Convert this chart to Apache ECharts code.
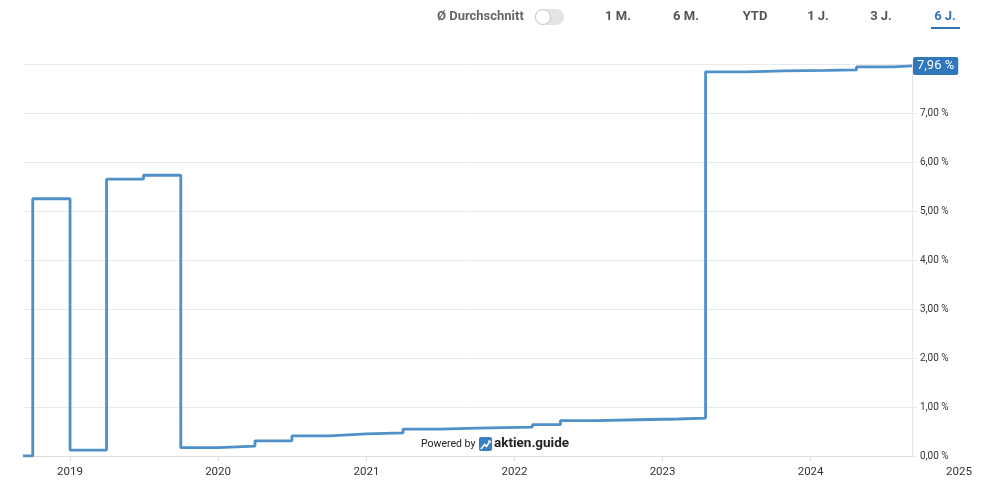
<!DOCTYPE html>
<html>
<head>
<meta charset="utf-8">
<script src="https://cdn.jsdelivr.net/npm/echarts@6/dist/echarts.min.js"></script>
<style>
  html, body { margin: 0; padding: 0; background: #fff; }
  #chart { width: 985px; height: 499px; }
</style>
</head>
<body>
<div id="chart"></div>
<script>
// Dividendenrendite, Stufenverlauf (Datum der Änderung, Wert in %)
const changeDates = [
  '2018-09-07', '2018-10-01', '2019-01-01', '2019-04-01', '2019-07-01', '2019-10-01',
  '2020-01-01', '2020-04-01', '2020-07-01', '2020-10-01', '2021-01-01', '2021-04-01',
  '2021-07-01', '2021-10-01', '2022-02-14', '2022-04-24', '2022-07-23', '2022-10-29',
  '2023-02-08', '2023-04-17', '2023-07-26', '2023-10-29', '2024-02-09', '2024-04-23',
  '2024-07-23', '2024-09-07'
];
const yieldValues = [
  0, 5.25, 0.12, 5.65, 5.73, 0.17,
  0.20, 0.31, 0.41, 0.45, 0.47, 0.55,
  0.57, 0.59, 0.64, 0.72, 0.74, 0.755,
  0.775, 7.84, 7.86, 7.87, 7.88, 7.94,
  7.96, 7.96
];
const rangeButtons = ['1 M.', '6 M.', 'YTD', '1 J.', '3 J.', '6 J.'];
const activeButton = '6 J.';
const axisStart = '2018-09-07';
const axisEnd = '2024-09-07';
const labelEnd = '2025-01-01';

function toTime(s) {
  const p = s.split('-').map(Number);
  return new Date(p[0], p[1] - 1, p[2]).getTime();
}

function fmtPct(v) {
  return v.toFixed(2).replace('.', ',') + ' %';
}

function yearLabel(value) {
  const d = new Date(value);
  return (d.getMonth() === 0 && d.getDate() === 1) ? String(d.getFullYear()) : '';
}

const seriesData = changeDates.map((d, i) => [toTime(d), yieldValues[i]]);
const YEAR = 365 * 24 * 3600 * 1000;

const chart = echarts.init(document.getElementById('chart'));

// Kopfzeile mit Zeitraum-Buttons
const btnX = [618, 686, 755, 818, 881, 945];
const header = [
  {
    type: 'text',
    style: { text: 'Ø Durchschnitt', x: 437, y: 17, fill: '#666', font: 'bold 13px Roboto', textVerticalAlign: 'middle' }
  },
  {
    type: 'rect',
    shape: { x: 535, y: 9, width: 29, height: 16, r: 8 },
    style: { fill: '#e3e3e3' }
  },
  {
    type: 'circle',
    shape: { cx: 543, cy: 17, r: 7.5 },
    style: { fill: '#fff', stroke: '#c8c8c8', lineWidth: 1 }
  }
];
rangeButtons.forEach((b, i) => {
  header.push({
    type: 'text',
    style: {
      text: b, x: btnX[i], y: 17, textAlign: 'center', textVerticalAlign: 'middle',
      fill: b === activeButton ? '#2f73b5' : '#555', font: 'bold 13px Roboto'
    }
  });
});
header.push({
  type: 'rect',
  shape: { x: 931, y: 27, width: 29, height: 2 },
  style: { fill: '#2f73b5' }
});

// Wasserzeichen
const watermark = [
  {
    type: 'text',
    style: { text: 'Powered by', x: 421, y: 444, fill: '#222', font: '10.5px Roboto', textVerticalAlign: 'middle' }
  },
  {
    type: 'rect',
    shape: { x: 479, y: 437, width: 13, height: 14, r: 2 },
    style: { fill: '#3a7fc1' }
  },
  {
    type: 'polyline',
    shape: { points: [[481, 449], [484.5, 444.5], [486.5, 446.5], [490, 441]] },
    style: { stroke: '#fff', lineWidth: 1.6, fill: null }
  },
  {
    type: 'polygon',
    shape: { points: [[487.5, 440.5], [490.5, 440.5], [490.5, 443.5]] },
    style: { fill: '#fff' }
  },
  {
    type: 'text',
    style: { text: 'aktien.guide', x: 494, y: 444, fill: '#222', font: 'bold 13.5px Roboto', textVerticalAlign: 'middle' }
  }
];

const option = {
  backgroundColor: '#fff',
  animation: false,
  textStyle: { fontFamily: 'Roboto' },
  graphic: header.concat(watermark),
  grid: [
    { left: 23, right: 73, top: 64, bottom: 43 },
    { left: 23, right: 26, top: 64, bottom: 43 }
  ],
  xAxis: [
    {
      type: 'time',
      gridIndex: 0,
      min: toTime(axisStart),
      max: toTime(axisEnd),
      minInterval: YEAR,
      maxInterval: YEAR + 24 * 3600 * 1000,
      axisLine: { show: true, lineStyle: { color: '#dcdcdc', width: 1 } },
      axisTick: { show: true, length: 5, lineStyle: { color: '#dcdcdc' } },
      axisLabel: { color: '#333', fontSize: 11.5, margin: 10, formatter: yearLabel, showMinLabel: false, showMaxLabel: false },
      splitLine: { show: false }
    },
    {
      type: 'time',
      gridIndex: 1,
      min: toTime(axisStart),
      max: toTime(labelEnd),
      minInterval: YEAR,
      maxInterval: YEAR + 24 * 3600 * 1000,
      axisLine: { show: false },
      axisTick: { show: false },
      axisLabel: {
        color: '#333', fontSize: 11.5, margin: 10, showMaxLabel: true,
        formatter: v => (new Date(v).getFullYear() === 2025 ? yearLabel(v) : '')
      },
      splitLine: { show: false }
    }
  ],
  yAxis: [
    {
      type: 'value',
      gridIndex: 0,
      position: 'right',
      min: 0,
      max: 8,
      interval: 1,
      axisLine: { show: true, lineStyle: { color: '#e6e6e6' } },
      axisTick: { show: true, length: 5, lineStyle: { color: '#e6e6e6' } },
      axisLabel: { color: '#333', fontSize: 10, margin: 8, formatter: fmtPct, showMaxLabel: false },
      splitLine: { show: true, lineStyle: { color: '#e9e9e9' } }
    },
    {
      type: 'value',
      gridIndex: 1,
      min: 0,
      max: 8,
      show: false
    }
  ],
  series: [{
    name: 'Dividendenrendite',
    type: 'line',
    xAxisIndex: 0,
    yAxisIndex: 0,
    step: 'end',
    data: seriesData,
    showSymbol: false,
    lineStyle: { color: '#5090c8', width: 2.8 },
    endLabel: {
      show: true,
      distance: 1,
      formatter: p => fmtPct(p.value[1]),
      color: '#fff',
      fontSize: 13,
      backgroundColor: '#2f78bd',
      padding: [3, 4, 2, 4],
      borderRadius: 2
    }
  }]
};

chart.setOption(option);
</script>
</body>
</html>
